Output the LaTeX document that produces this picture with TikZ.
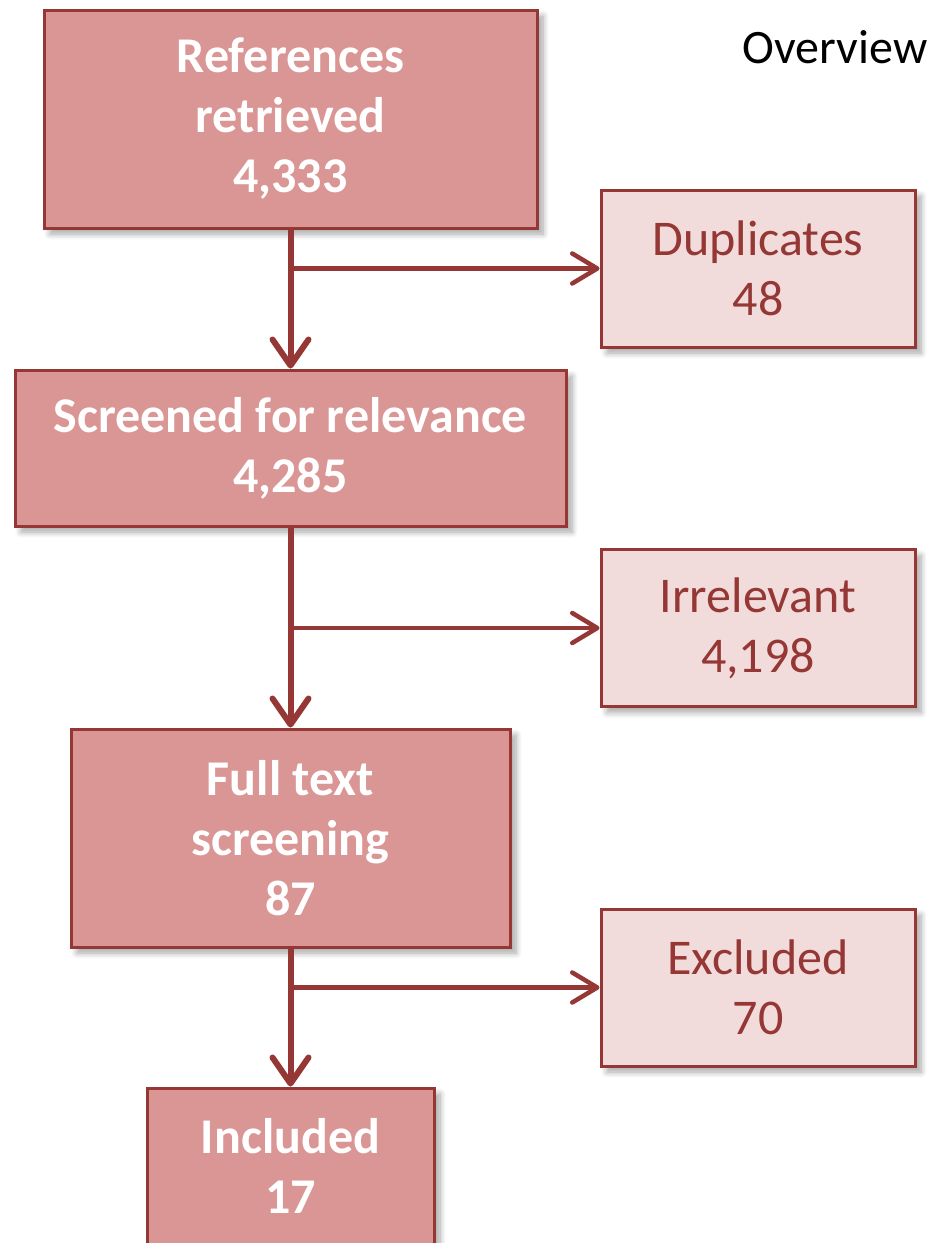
\documentclass[tikz,border=0pt]{standalone}
\usepackage{fontspec}
\setmainfont{Carlito}
\usepackage{tikz}
\usetikzlibrary{arrows.meta, positioning, shadows.blur}
\definecolor{flowdark}{RGB}{149,55,53}
\definecolor{flowmid}{RGB}{217,150,148}
\definecolor{flowlight}{RGB}{242,220,219}

\begin{document}
\begin{tikzpicture}[x=1pt, y=-1pt,
      stage/.style={draw=flowdark, line width=3pt, fill=flowmid, align=center, text=white,
        font=\fontsize{50}{60}\selectfont\bfseries, inner sep=0pt,
        blur shadow={shadow xshift=6pt, shadow yshift=-6pt, shadow blur steps=8, shadow blur radius=6pt, shadow opacity=35}},
      side/.style={draw=flowdark, line width=3pt, fill=flowlight, align=center, text=flowdark,
        font=\fontsize{50}{60}\selectfont, inner sep=0pt, minimum width=314pt, minimum height=157pt,
        blur shadow={shadow xshift=6pt, shadow yshift=-6pt, shadow blur steps=8, shadow blur radius=6pt, shadow opacity=35}},
      arr/.style={-{Straight Barb[length=26pt, width=36pt, round]}, line width=6pt, flowdark},
      branch/.style={-{Straight Barb[length=25pt, width=30pt, round]}, line width=4.5pt, flowdark}
    ]
      \useasboundingbox (0,0) rectangle (943,1243);

      % main column
      \node[stage, minimum width=493pt, minimum height=218pt] (ref) at (290.5,119) {References\\retrieved\\4,333};
      \node[stage, minimum width=551pt, minimum height=156pt] (scr) at (290.5,448) {Screened for relevance\\4,285};
      \node[stage, minimum width=439pt, minimum height=218pt] (full) at (290.5,838) {Full text\\screening\\87};
      \node[stage, minimum width=287pt, minimum height=156pt] (inc) at (290.5,1166) {Included\\17};

      % removed records on the right
      \node[side] (dup) at (758,268.5) {Duplicates\\48};
      \node[side] (irr) at (758,628) {Irrelevant\\4,198};
      \node[side] (exc) at (758,987.5) {Excluded\\70};

      \node[font=\fontsize{48}{60}\selectfont, anchor=east] (ovw) at (931,47) {Overview};

      \draw[arr] (ref) -- (scr);
      \draw[arr] (scr) -- (full);
      \draw[arr] (full) -- (inc);

      \draw[branch] (ref.south |- dup.west) -- (dup.west);
      \draw[branch] (scr.south |- irr.west) -- (irr.west);
      \draw[branch] (full.south |- exc.west) -- (exc.west);
    \end{tikzpicture}
\end{document}
